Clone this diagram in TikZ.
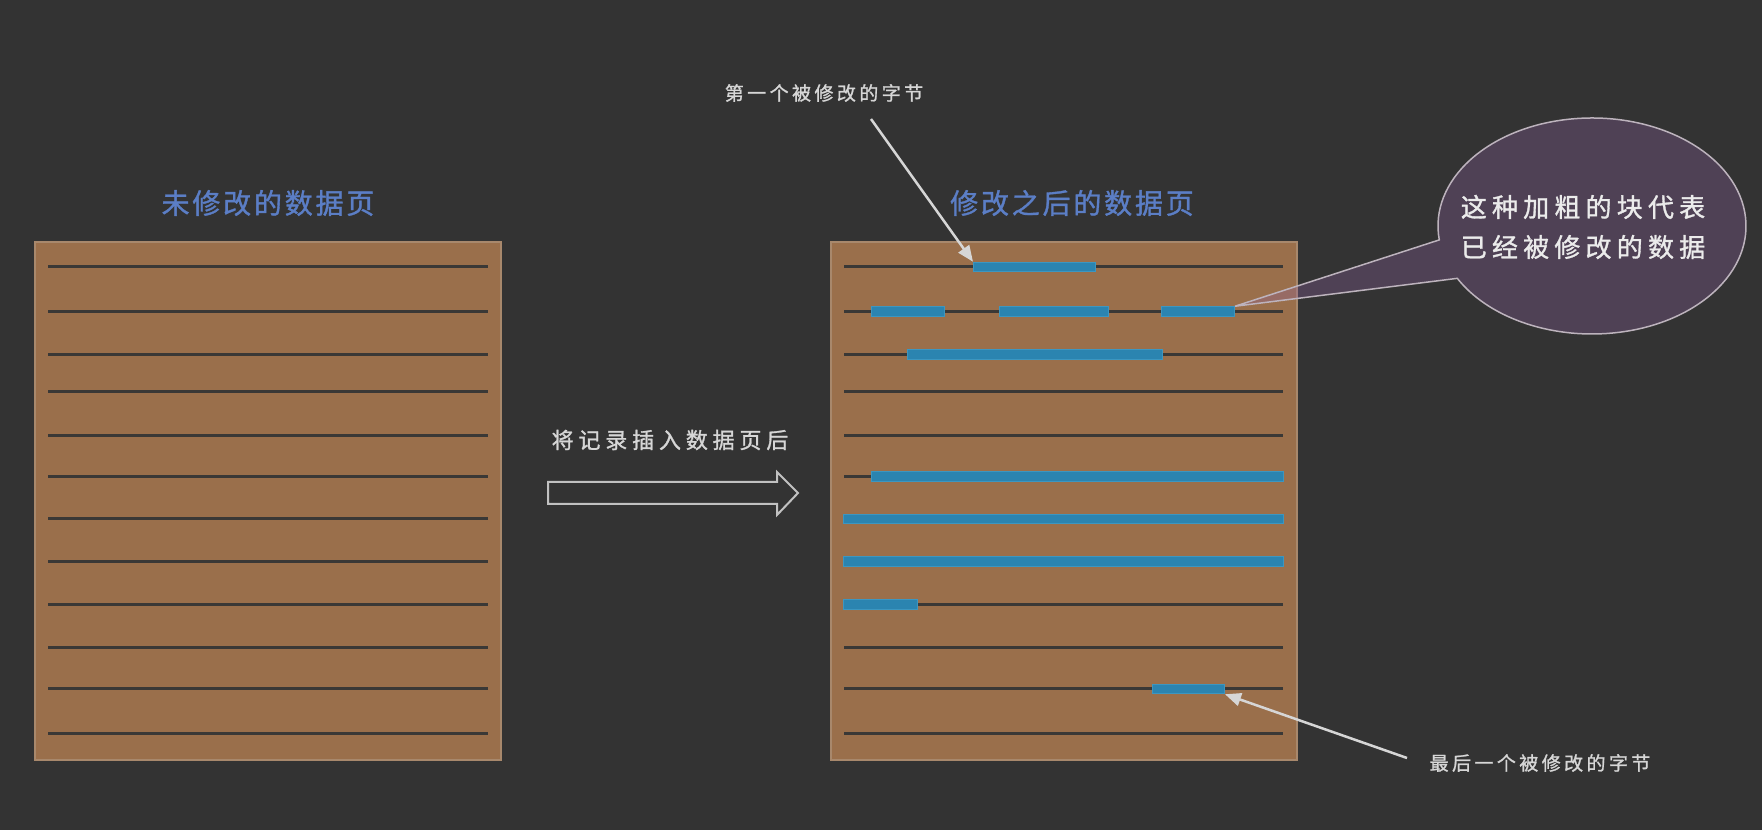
\documentclass[tikz,border=0pt]{standalone}
\usepackage{fontspec}
\newfontfamily\cjk{Noto Sans CJK SC}
\newfontfamily\cjkb{Noto Sans CJK SC}[FakeBold=1.2]
\usetikzlibrary{arrows.meta,calc}
\definecolor{bgcol}{RGB}{51,51,51}
\definecolor{pagefill}{RGB}{154,111,75}
\definecolor{pageedge}{RGB}{168,136,108}
\definecolor{rowcol}{RGB}{58,56,54}
\definecolor{blkfill}{RGB}{43,132,176}
\definecolor{blkedge}{RGB}{60,150,192}
\definecolor{titleblue}{RGB}{91,126,198}
\definecolor{labgray}{RGB}{214,214,214}
\definecolor{calloutfill}{RGB}{146,98,164}
\definecolor{calloutedge}{RGB}{189,179,189}
\tikzset{
  page/.style={draw=pageedge, line width=1.5pt, fill=pagefill},
  rowline/.style={draw=rowcol, line width=3pt},
  blk/.style={draw=blkedge, line width=1pt, fill=blkfill, inner sep=0pt, minimum height=9.5pt, anchor=west},
  title/.style={text=titleblue, font=\cjkb\fontsize{28}{34}\selectfont\addfontfeature{LetterSpace=10}, inner sep=0pt},
  smalllab/.style={text=labgray, font=\cjkb\fontsize{19}{24}\selectfont\addfontfeature{LetterSpace=18}, inner sep=0pt},
  midlab/.style={text=labgray, font=\cjkb\fontsize{22}{28}\selectfont\addfontfeature{LetterSpace=22}, inner sep=0pt},
  calltext/.style={text=white!92!black, align=center, font=\cjkb\fontsize{26}{40}\selectfont\addfontfeature{LetterSpace=20}, inner sep=0pt},
  ptr/.style={draw=labgray, line width=2.5pt, -{Triangle[length=16pt,width=13pt]}},
  hollow/.style={draw=labgray!90!black, line width=2pt, line join=miter},
  callout/.style={draw=calloutedge, line width=1.5pt, fill=calloutfill, fill opacity=0.3},
}
\begin{document}
\begin{tikzpicture}[x=1pt,y=1pt]
\useasboundingbox (0,0) rectangle (1762,830);
\fill[bgcol] (0,0) rectangle (1762,830);

% pages
\draw[page] (35,70) rectangle (501,588);
\draw[page] (831,70) rectangle (1297,588);
\foreach \yy in {563,518.5,475.5,438,394,353.5,311,268.5,225.5,182.7,141,96.5} {
  \draw[rowline] (48,\yy) -- (488,\yy);
  \draw[rowline] (844,\yy) -- (1283,\yy);
}

% titles
\node[title] (t1) at (268,627) {未修改的数据页};
\node[title] (t2) at (1072,627) {修改之后的数据页};

% modified blocks
\node[blk, minimum width=122pt] (m1) at (973,563) {};
\node[blk, minimum width=73pt] (m2a) at (871,518.5) {};
\node[blk, minimum width=109pt] (m2b) at (999,518.5) {};
\node[blk, minimum width=73pt] (m2c) at (1161,518.5) {};
\node[blk, minimum width=255pt] (m3) at (907,475.5) {};
\node[blk, minimum width=412pt] (m6) at (871,353.5) {};
\node[blk, minimum width=440pt] (m7) at (843,311) {};
\node[blk, minimum width=440pt] (m8) at (843,268.5) {};
\node[blk, minimum width=74pt] (m9) at (843,225.5) {};
\node[blk, minimum width=72pt] (m11) at (1152,141) {};

% middle arrow and label
\node[midlab] (ml) at (670,390) {将记录插入数据页后};
\draw[hollow] (548,348) -- (777,348) -- (777,358) -- (798,337) -- (777,315) -- (777,326) -- (548,326) -- cycle;

% pointer labels
\node[smalllab] (lab1) at (824,737) {第一个被修改的字节};
\coordinate (a1s) at (871,711);
\draw[ptr] (a1s) -- (m1.north west);

\node[smalllab] (lab2) at (1540,67) {最后一个被修改的字节};
\coordinate (a2s) at (1407,72);
\draw[ptr] (a2s) -- (m11.south east);

% callout
\coordinate (cc) at (1592,604);
\draw[callout] (m2c.north east) -- ($(cc)+(187.4:154 and 108)$)
  arc[start angle=187.4, end angle=-151, x radius=154, y radius=108] -- cycle;
\node[calltext] (ct) at (1583,603) {这种加粗的块代表\\已经被修改的数据};
\end{tikzpicture}
\end{document}
